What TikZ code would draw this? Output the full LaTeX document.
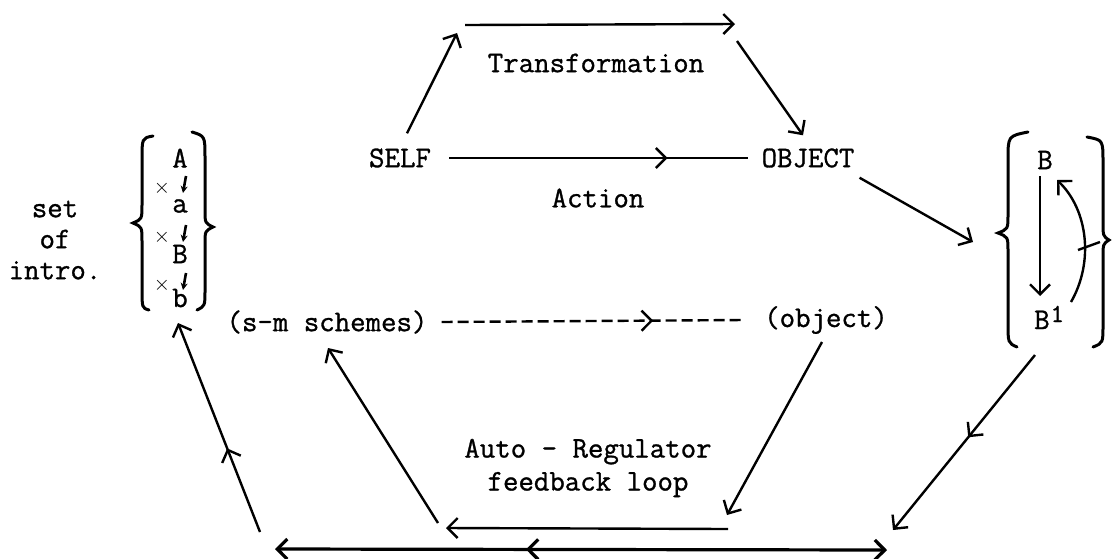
\documentclass[tikz,border=0pt]{standalone}
\usepackage{fontspec}
\newfontfamily\typefont[BoldFont={Latin Modern Mono}, BoldFeatures={FakeBold=1.0}]{Latin Modern Mono}
\usetikzlibrary{arrows.meta, decorations.markings}

\begin{document}
\begin{tikzpicture}[x=1pt, y=-1pt, >={Straight Barb[length=10pt,width=20pt]},
    txt/.style={font=\fontsize{30}{31}\selectfont\typefont\bfseries, inner sep=0pt},
    inbrace/.style={font=\fontsize{30}{31}\selectfont\typefont\bfseries, inner sep=0pt},
    cross/.style={font=\fontsize{20}{20}\selectfont, inner sep=0pt},
    conn/.style={line width=2.4pt},
    heavy/.style={line width=3.2pt},
    typed/.style={line width=2.6pt, -{Stealth[length=7pt,width=7pt]}},
    bracket/.style={line width=3pt, line cap=round},
    midarrow/.style={postaction={decorate}, decoration={markings, mark=at position #1 with {\arrow{>}}}},
    midback/.style={postaction={decorate}, decoration={markings, mark=at position #1 with {\arrowreversed{>}}}}]
    \useasboundingbox (0,0) rectangle (1112,558);

    % --- TEXT ---
    \node[txt] (self) at (400,158) {SELF};
    \node[txt] (object) at (808,158) {OBJECT};
    \node[txt] (transf) at (596,63) {Transformation};
    \node[txt] (action) at (598,198) {Action};
    \node[txt] (schemes) at (327,322) {(s-m schemes)};
    \node[txt] (objlow) at (826,320) {(object)};
    \node[txt, align=center] (loop) at (588,468) {Auto - Regulator\\[2pt]feedback loop};
    \node[txt, align=center] (setof) at (55,240) {set\\of\\intro.};

    % --- LEFT SET ---
    \draw[bracket] (153,136) .. controls (142,138) .. (142,160) -- (142,205)
        .. controls (142,219) .. (133,223) .. controls (142,227) .. (142,241)
        -- (142,288) .. controls (142,308) .. (149,310);
    \draw[bracket] (192,132) .. controls (205,136) .. (205,158) -- (205,210)
        .. controls (205,223) .. (213,227) .. controls (205,231) .. (205,244)
        -- (205,290) .. controls (205,306) .. (197,310);
    \node[inbrace] (lA) at (180,158) {A};
    \node[inbrace] (la) at (180,206) {a};
    \node[inbrace] (lB) at (180,254) {B};
    \node[inbrace] (lb) at (180,298) {b};
    \foreach \y/\n in {188/1, 237/2, 285/3} {
        \node[cross] (lx\n) at (162,\y) {$\times$};
        \coordinate (ld\n a) at (186,\y-12);
        \coordinate (ld\n b) at (183,\y+5);
        \draw[typed] (ld\n a) -- (ld\n b);
    }

    % --- RIGHT SET ---
    \draw[bracket] (1028,132) .. controls (1008,136) .. (1008,160) -- (1008,215)
        .. controls (1008,229) .. (998,233) .. controls (1008,237) .. (1008,251)
        -- (1008,322) .. controls (1008,343) .. (1017,347);
    \draw[bracket] (1087,137) .. controls (1103,140) .. (1103,162) -- (1103,222)
        .. controls (1103,236) .. (1109,240) .. controls (1103,244) .. (1103,258)
        -- (1103,325) .. controls (1103,343) .. (1093,347);
    \node[inbrace] (rB) at (1045,160) {B};
    \node[inbrace, anchor=base west] (rB1) at (1034,329) {B\hspace{1pt}\raisebox{7pt}{\fontsize{26}{26}\selectfont 1}};
    \coordinate (rdnA) at (1040,176);
    \coordinate (rdnB) at (1040,296);
    \draw[conn, ->] (rdnA) -- (rdnB);
    \coordinate (rcvA) at (1071,302);
    \coordinate (rcvB) at (1057,180);
    \draw[conn, ->] (rcvA) .. controls (1094,262) and (1088,210) .. (rcvB);
    \coordinate (rtkA) at (1078,250);
    \coordinate (rtkB) at (1100,242);
    \draw[conn] (rtkA) -- (rtkB);

    % --- TRANSFORMATION ---
    \coordinate (upend) at (457,33);
    \coordinate (topL) at (465,25);
    \coordinate (topR) at (735,24);
    \coordinate (dnbeg) at (737,41);
    \draw[conn, ->] ([xshift=7pt,yshift=15pt]self.north) -- (upend);
    \draw[conn, ->] (topL) -- (topR);
    \draw[conn, ->] (dnbeg) -- ([xshift=-5pt,yshift=13pt]object.north);

    % --- ACTION ---
    \draw[conn, midarrow=0.73] ([xshift=18pt]self.east) -- ([xshift=-13pt]object.west);
    \coordinate (rsetin) at (973,242);
    \draw[conn, ->] ([xshift=5pt,yshift=-10pt]object.south east) -- (rsetin);

    % --- SCHEMES ---
    \draw[conn, dash pattern=on 11pt off 5pt, midarrow=0.7]
        ([xshift=14pt]schemes.east) -- ([xshift=-20pt]objlow.west);

    % --- FEEDBACK LOOP ---
    \coordinate (obS) at (822,342);
    \coordinate (obE) at (727,515);
    \coordinate (fbR) at (728,529);
    \coordinate (fbL) at (446,528);
    \coordinate (smS) at (438,523);
    \coordinate (smE) at (328,348);
    \draw[conn, ->] (obS) -- (obE);
    \draw[conn, ->] (fbR) -- (fbL);
    \draw[conn, ->] (smS) -- (smE);

    % --- OUTER LOOP ---
    \coordinate (rdS) at (1035,355);
    \coordinate (rdE) at (893,530);
    \coordinate (botL) at (275,549);
    \coordinate (botR) at (887,550);
    \coordinate (lfS) at (260,532);
    \coordinate (lfE) at (178,323);
    \draw[conn, ->, midarrow=0.47] (rdS) -- (rdE);
    \draw[heavy, <->, midback=0.41] (botL) -- (botR);
    \draw[conn, ->, midarrow=0.4] (lfS) -- (lfE);
\end{tikzpicture}
\end{document}
